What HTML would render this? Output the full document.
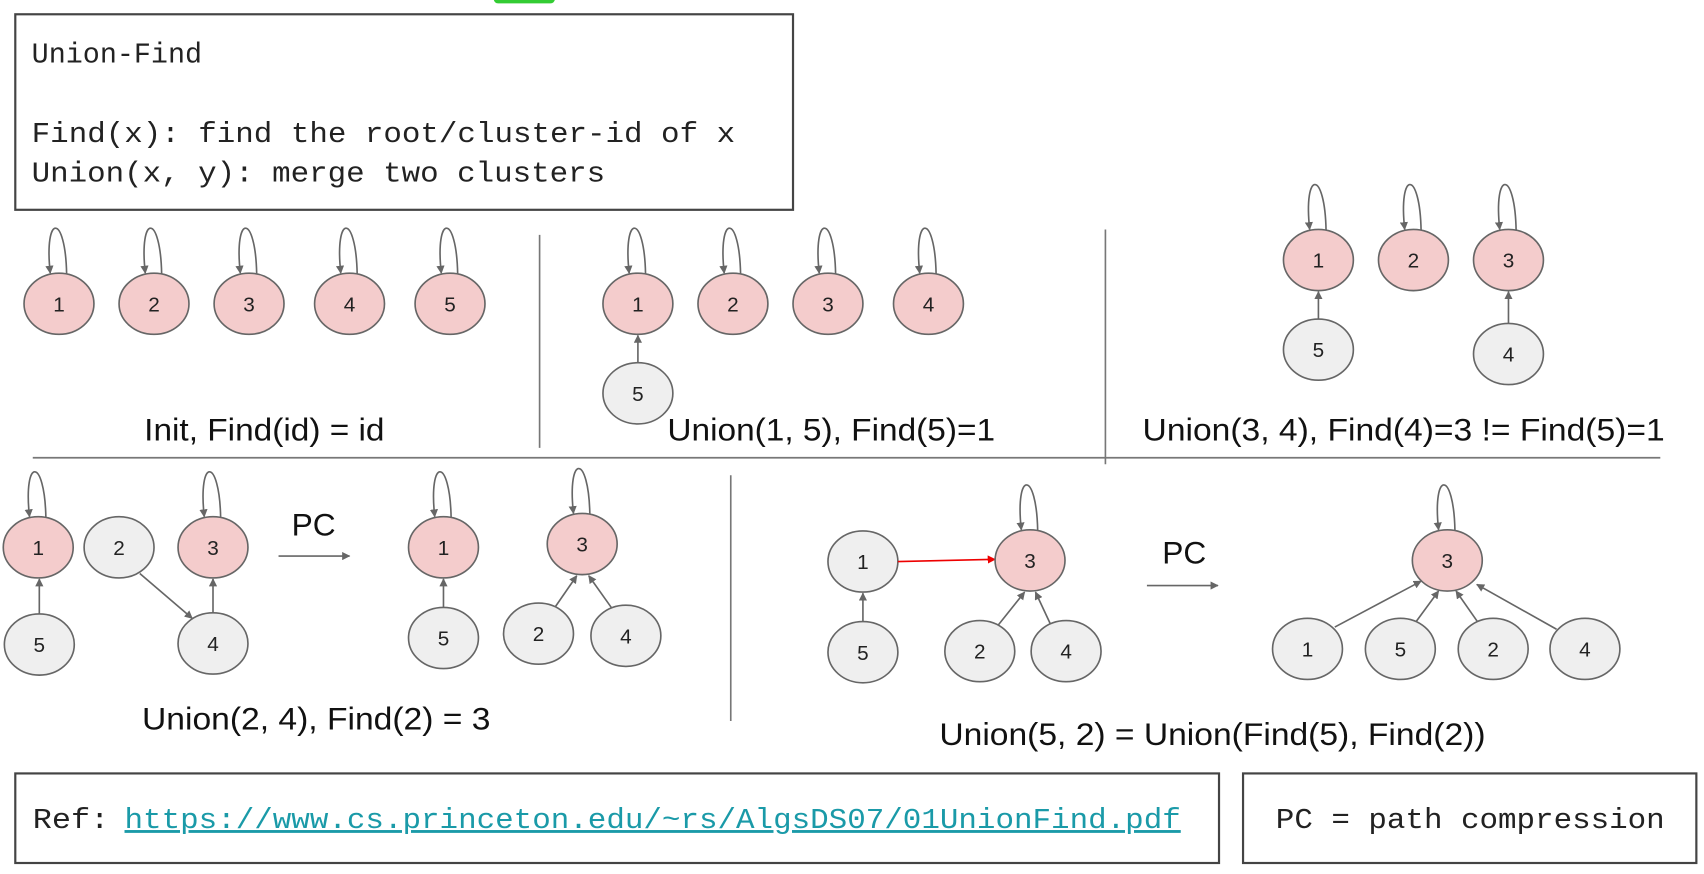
<!DOCTYPE html>
<html><head><meta charset="utf-8"><style>
html,body{margin:0;padding:0;background:#fff;}
svg{display:block;}
.m{font-family:"Liberation Mono",monospace;font-size:26px;fill:#222;}
.l{font-family:"Liberation Sans",sans-serif;font-size:29px;fill:#111;}
.n{font-family:"Liberation Sans",sans-serif;font-size:19px;fill:#222;text-anchor:middle;}
.p{fill:#f4cccc;stroke:#666;stroke-width:1.5;}
.g{fill:#efefef;stroke:#666;stroke-width:1.5;}
.e{stroke:#666;stroke-width:1.5;fill:none;marker-end:url(#a);}
</style></head><body>
<svg width="1704" height="874" viewBox="0 0 1560 800" xmlns="http://www.w3.org/2000/svg">
<defs>
<marker id="a" viewBox="0 0 10 10" refX="9" refY="5" markerWidth="5" markerHeight="5" orient="auto"><path d="M0,0 L10,5 L0,10 z" fill="#666"/></marker>
<marker id="r" viewBox="0 0 10 10" refX="9" refY="5" markerWidth="5" markerHeight="5" orient="auto"><path d="M0,0 L10,5 L0,10 z" fill="#e00"/></marker>
</defs>
<rect x="452" y="-6" width="56" height="9" rx="4" fill="#3c3"/>
<rect x="14" y="13" width="712" height="179" fill="#fff" stroke="#444" stroke-width="2"/>
<text class="m" x="29" y="57">Union-Find</text>
<text class="m" x="29" y="130" textLength="644" lengthAdjust="spacingAndGlyphs">Find(x): find the root/cluster-id of x</text>
<text class="m" x="29" y="166" textLength="525" lengthAdjust="spacingAndGlyphs">Union(x, y): merge two clusters</text>

<!-- lines -->
<line x1="494" y1="215" x2="494" y2="410" stroke="#777" stroke-width="1.5"/>
<line x1="1012" y1="210" x2="1012" y2="425" stroke="#777" stroke-width="1.5"/>
<line x1="30" y1="419" x2="1520" y2="419" stroke="#777" stroke-width="1.5"/>
<line x1="669" y1="435" x2="669" y2="660" stroke="#777" stroke-width="1.5"/>

<!-- Panel 1 -->
<g>
<path class="e" d="M61,251 C60,195 40,195 46,250"/><ellipse class="p" cx="54" cy="278" rx="32" ry="28"/><text class="n" x="54" y="285">1</text>
<path class="e" d="M148,251 C147,195 127,195 133,250"/><ellipse class="p" cx="141" cy="278" rx="32" ry="28"/><text class="n" x="141" y="285">2</text>
<path class="e" d="M235,251 C234,195 214,195 220,250"/><ellipse class="p" cx="228" cy="278" rx="32" ry="28"/><text class="n" x="228" y="285">3</text>
<path class="e" d="M327,251 C326,195 306,195 312,250"/><ellipse class="p" cx="320" cy="278" rx="32" ry="28"/><text class="n" x="320" y="285">4</text>
<path class="e" d="M419,251 C418,195 398,195 404,250"/><ellipse class="p" cx="412" cy="278" rx="32" ry="28"/><text class="n" x="412" y="285">5</text>
<text class="l" x="132" y="403" textLength="220" lengthAdjust="spacingAndGlyphs">Init, Find(id) = id</text>
</g>

<!-- Panel 2 -->
<g>
<path class="e" d="M591,251 C590,195 570,195 576,250"/><ellipse class="p" cx="584" cy="278" rx="32" ry="28"/><text class="n" x="584" y="285">1</text>
<path class="e" d="M678,251 C677,195 657,195 663,250"/><ellipse class="p" cx="671" cy="278" rx="32" ry="28"/><text class="n" x="671" y="285">2</text>
<path class="e" d="M765,251 C764,195 744,195 750,250"/><ellipse class="p" cx="758" cy="278" rx="32" ry="28"/><text class="n" x="758" y="285">3</text>
<path class="e" d="M857,251 C856,195 836,195 842,250"/><ellipse class="p" cx="850" cy="278" rx="32" ry="28"/><text class="n" x="850" y="285">4</text>
<line class="e" x1="584" y1="332" x2="584" y2="307"/>
<ellipse class="g" cx="584" cy="360" rx="32" ry="28"/><text class="n" x="584" y="367">5</text>
<text class="l" x="611" y="403" textLength="300" lengthAdjust="spacingAndGlyphs">Union(1, 5), Find(5)=1</text>
</g>

<!-- Panel 3 -->
<g>
<path class="e" d="M1214,211 C1213,155 1193,155 1199,210"/><ellipse class="p" cx="1207" cy="238" rx="32" ry="28"/><text class="n" x="1207" y="245">1</text>
<path class="e" d="M1301,211 C1300,155 1280,155 1286,210"/><ellipse class="p" cx="1294" cy="238" rx="32" ry="28"/><text class="n" x="1294" y="245">2</text>
<path class="e" d="M1388,211 C1387,155 1367,155 1373,210"/><ellipse class="p" cx="1381" cy="238" rx="32" ry="28"/><text class="n" x="1381" y="245">3</text>
<line class="e" x1="1207" y1="292" x2="1207" y2="267"/>
<ellipse class="g" cx="1207" cy="320" rx="32" ry="28"/><text class="n" x="1207" y="327">5</text>
<line class="e" x1="1381" y1="296" x2="1381" y2="267"/>
<ellipse class="g" cx="1381" cy="324" rx="32" ry="28"/><text class="n" x="1381" y="331">4</text>
<text class="l" x="1046" y="403" textLength="478" lengthAdjust="spacingAndGlyphs">Union(3, 4), Find(4)=3 != Find(5)=1</text>
</g>

<!-- Row 2 left -->
<g>
<path class="e" d="M42,474 C41,418 21,418 27,473"/><ellipse class="p" cx="35" cy="501" rx="32" ry="28"/><text class="n" x="35" y="508">1</text>
<ellipse class="g" cx="109" cy="501" rx="32" ry="28"/><text class="n" x="109" y="508">2</text>
<path class="e" d="M202,474 C201,418 181,418 187,473"/><ellipse class="p" cx="195" cy="501" rx="32" ry="28"/><text class="n" x="195" y="508">3</text>
<line class="e" x1="36" y1="562" x2="36" y2="530"/>
<ellipse class="g" cx="36" cy="590" rx="32" ry="28"/><text class="n" x="36" y="597">5</text>
<line class="e" x1="195" y1="561" x2="195" y2="530"/>
<line class="e" x1="128" y1="525" x2="176" y2="566"/>
<ellipse class="g" cx="195" cy="589" rx="32" ry="28"/><text class="n" x="195" y="596">4</text>
<text class="l" x="267" y="490">PC</text>
<line class="e" x1="255" y1="509" x2="320" y2="509"/>

<path class="e" d="M413,474 C412,418 392,418 398,473"/><ellipse class="p" cx="406" cy="501" rx="32" ry="28"/><text class="n" x="406" y="508">1</text>
<line class="e" x1="406" y1="556" x2="406" y2="530"/>
<ellipse class="g" cx="406" cy="584" rx="32" ry="28"/><text class="n" x="406" y="591">5</text>
<path class="e" d="M540,471 C539,415 519,415 525,470"/><ellipse class="p" cx="533" cy="498" rx="32" ry="28"/><text class="n" x="533" y="505">3</text>
<line class="e" x1="508" y1="556" x2="528" y2="527"/>
<line class="e" x1="561" y1="558" x2="539" y2="527"/>
<ellipse class="g" cx="493" cy="580" rx="32" ry="28"/><text class="n" x="493" y="587">2</text>
<ellipse class="g" cx="573" cy="582" rx="32" ry="28"/><text class="n" x="573" y="589">4</text>
<text class="l" x="130" y="668" textLength="319" lengthAdjust="spacingAndGlyphs">Union(2, 4), Find(2) = 3</text>
</g>

<!-- Row 2 right -->
<g>
<ellipse class="g" cx="790" cy="514" rx="32" ry="28"/><text class="n" x="790" y="521">1</text>
<line x1="822" y1="514" x2="911" y2="512" stroke="#e00" stroke-width="1.5" marker-end="url(#r)"/>
<path class="e" d="M950,486 C949,430 929,430 935,485"/><ellipse class="p" cx="943" cy="513" rx="32" ry="28"/><text class="n" x="943" y="520">3</text>
<line class="e" x1="790" y1="569" x2="790" y2="543"/>
<ellipse class="g" cx="790" cy="597" rx="32" ry="28"/><text class="n" x="790" y="604">5</text>
<line class="e" x1="914" y1="572" x2="938" y2="542"/>
<line class="e" x1="962" y1="572" x2="948" y2="542"/>
<ellipse class="g" cx="897" cy="596" rx="32" ry="28"/><text class="n" x="897" y="603">2</text>
<ellipse class="g" cx="976" cy="596" rx="32" ry="28"/><text class="n" x="976" y="603">4</text>
<text class="l" x="1064" y="516">PC</text>
<line class="e" x1="1050" y1="536" x2="1115" y2="536"/>

<path class="e" d="M1332,486 C1331,430 1311,430 1317,485"/><ellipse class="p" cx="1325" cy="513" rx="32" ry="28"/><text class="n" x="1325" y="520">3</text>
<line class="e" x1="1222" y1="574" x2="1301" y2="532"/>
<line class="e" x1="1295" y1="571" x2="1317" y2="541"/>
<line class="e" x1="1354" y1="571" x2="1333" y2="541"/>
<line class="e" x1="1425" y1="576" x2="1352" y2="535"/>
<ellipse class="g" cx="1197" cy="594" rx="32" ry="28"/><text class="n" x="1197" y="601">1</text>
<ellipse class="g" cx="1282" cy="594" rx="32" ry="28"/><text class="n" x="1282" y="601">5</text>
<ellipse class="g" cx="1367" cy="594" rx="32" ry="28"/><text class="n" x="1367" y="601">2</text>
<ellipse class="g" cx="1451" cy="594" rx="32" ry="28"/><text class="n" x="1451" y="601">4</text>
<text class="l" x="860" y="682" textLength="500" lengthAdjust="spacingAndGlyphs">Union(5, 2) = Union(Find(5), Find(2))</text>
</g>

<!-- bottom boxes -->
<rect x="14" y="708" width="1102" height="82" fill="#fff" stroke="#444" stroke-width="2"/>
<text class="m" x="30" y="758" textLength="70" lengthAdjust="spacingAndGlyphs">Ref:</text>
<text class="m" x="114" y="758" textLength="967" lengthAdjust="spacingAndGlyphs" style="fill:#1a9aa8;text-decoration:underline">https://www.cs.princeton.edu/~rs/AlgsDS07/01UnionFind.pdf</text>
<rect x="1138" y="708" width="415" height="82" fill="#fff" stroke="#444" stroke-width="2"/>
<text class="m" x="1168" y="758" textLength="356" lengthAdjust="spacingAndGlyphs">PC = path compression</text>
</svg>
</body></html>
